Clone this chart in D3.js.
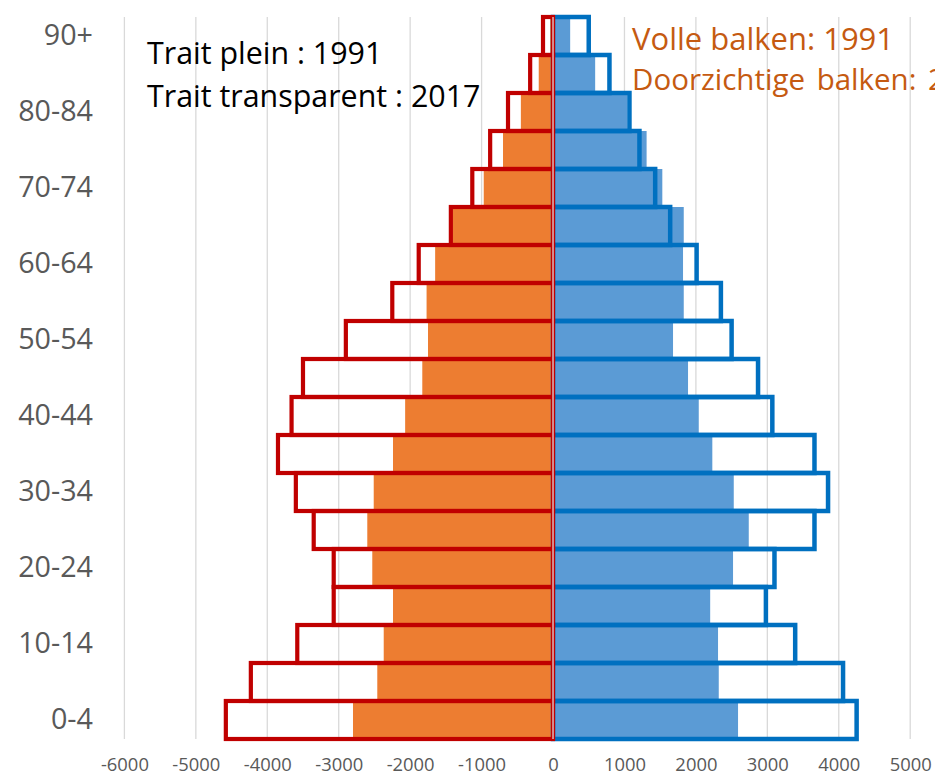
<!DOCTYPE html>
<html>
<head>
<meta charset="utf-8">
<script src="https://cdn.jsdelivr.net/npm/d3@7"></script>
<style>
  body { margin: 0; background: #fff; overflow: hidden; }
  text { font-family: "Open Sans", "Noto Sans", sans-serif; }
</style>
</head>
<body>
<svg id="pyramid"></svg>
<script>
// Age groups, bottom to top
const ageGroups = ["0-4", "5-9", "10-14", "15-19", "20-24", "25-29", "30-34", "35-39", "40-44",
  "45-49", "50-54", "55-59", "60-64", "65-69", "70-74", "75-79", "80-84", "85-89", "90+"];

// Left side (drawn as negative values)
const left1991 = [2800, 2460, 2370, 2240, 2530, 2600, 2510, 2240, 2070, 1830, 1750, 1770, 1650, 1400, 970, 700, 450, 200, 40];
const left2017 = [4580, 4230, 3580, 3070, 3070, 3350, 3600, 3850, 3660, 3500, 2900, 2250, 1880, 1430, 1130, 880, 630, 320, 140];

// Right side
const right1991 = [2590, 2320, 2310, 2200, 2520, 2740, 2530, 2230, 2040, 1890, 1680, 1830, 1820, 1830, 1530, 1310, 1040, 590, 240];
const right2017 = [4250, 4060, 3390, 2980, 3100, 3660, 3850, 3660, 3070, 2870, 2500, 2350, 2010, 1640, 1430, 1210, 1070, 790, 500];

const xTicks = [-6000, -5000, -4000, -3000, -2000, -1000, 0, 1000, 2000, 3000, 4000, 5000];
const yLabelGroups = ["0-4", "10-14", "20-24", "30-34", "40-44", "50-54", "60-64", "70-74", "80-84", "90+"];

const notesFr = ["Trait plein : 1991", "Trait transparent : 2017"];
const notesNl = ["Volle balken: 1991", "Doorzichtige balken: 2017"];

// Set up SVG
const width = 935, height = 775;
const margin = { top: 17, right: 25, bottom: 36, left: 124 };

const svg = d3.select("#pyramid")
  .attr("width", width)
  .attr("height", height);

const xScale = d3.scaleLinear()
  .domain([-6000, 5000])
  .range([margin.left + 0.4, width - margin.right + 0.2]);

const yScale = d3.scaleBand()
  .domain(ageGroups.slice().reverse())
  .range([margin.top, height - margin.bottom])
  .padding(0);

const rows = ageGroups.map((age, i) => ({
  age: age,
  l91: left1991[i], l17: left2017[i],
  r91: right1991[i], r17: right2017[i]
}));

// Gridlines
svg.append("g")
  .selectAll("line")
  .data(xTicks)
  .enter().append("line")
  .attr("x1", d => xScale(d))
  .attr("x2", d => xScale(d))
  .attr("y1", margin.top)
  .attr("y2", height - margin.bottom)
  .attr("stroke", "#d9d9d9")
  .attr("stroke-width", 1.3);

const x0 = xScale(0);

// Filled bars
svg.append("g").selectAll("rect")
  .data(rows)
  .enter().append("rect")
  .attr("x", d => xScale(-d.l91))
  .attr("y", d => yScale(d.age))
  .attr("width", d => x0 - xScale(-d.l91))
  .attr("height", yScale.bandwidth())
  .attr("fill", "#ed7d31");

svg.append("g").selectAll("rect")
  .data(rows)
  .enter().append("rect")
  .attr("x", x0)
  .attr("y", d => yScale(d.age))
  .attr("width", d => xScale(d.r91) - x0)
  .attr("height", yScale.bandwidth())
  .attr("fill", "#5b9bd5");

// Outlined bars
svg.append("g").selectAll("rect")
  .data(rows)
  .enter().append("rect")
  .attr("x", x0)
  .attr("y", d => yScale(d.age))
  .attr("width", d => xScale(d.r17) - x0)
  .attr("height", yScale.bandwidth())
  .attr("fill", "none")
  .attr("stroke", "#0070c0")
  .attr("stroke-width", 4.5);

svg.append("g").selectAll("rect")
  .data(rows)
  .enter().append("rect")
  .attr("x", d => xScale(-d.l17))
  .attr("y", d => yScale(d.age))
  .attr("width", d => x0 - xScale(-d.l17))
  .attr("height", yScale.bandwidth())
  .attr("fill", "none")
  .attr("stroke", "#c00000")
  .attr("stroke-width", 4.2);

// Vertical axis line at zero
svg.append("line")
  .attr("x1", x0).attr("x2", x0)
  .attr("y1", margin.top).attr("y2", height - margin.bottom)
  .attr("stroke", "#e6e6e6")
  .attr("stroke-width", 1.2);

// X axis
const xAxis = svg.append("g")
  .attr("transform", "translate(0," + (height - margin.bottom) + ")")
  .call(d3.axisBottom(xScale).tickValues(xTicks).tickSize(0).tickPadding(19).tickFormat(d => String(d)));
xAxis.select(".domain").remove();
xAxis.selectAll("text")
  .attr("fill", "#595959")
  .style("font-size", "18.4px");

// Y axis
const yAxis = svg.append("g")
  .attr("transform", "translate(" + margin.left + ",0)")
  .call(d3.axisLeft(yScale).tickValues(yLabelGroups).tickSize(0).tickPadding(31));
yAxis.select(".domain").remove();
yAxis.selectAll("text")
  .attr("fill", "#595959")
  .style("font-size", "28.7px");

// Annotations
svg.append("g").selectAll("text")
  .data(notesFr)
  .enter().append("text")
  .attr("x", 147)
  .attr("y", (d, i) => 64 + i * 43)
  .attr("fill", "#000")
  .style("font-size", "30.4px")
  .text(d => d);

svg.append("g").selectAll("text")
  .data(notesNl)
  .enter().append("text")
  .attr("x", 632)
  .attr("y", (d, i) => 50 + i * 40)
  .attr("fill", "#c55a11")
  .style("font-size", (d, i) => i === 0 ? "31px" : "29.5px")
  .style("word-spacing", (d, i) => i === 0 ? "0px" : "4px")
  .text(d => d);
</script>
</body>
</html>
